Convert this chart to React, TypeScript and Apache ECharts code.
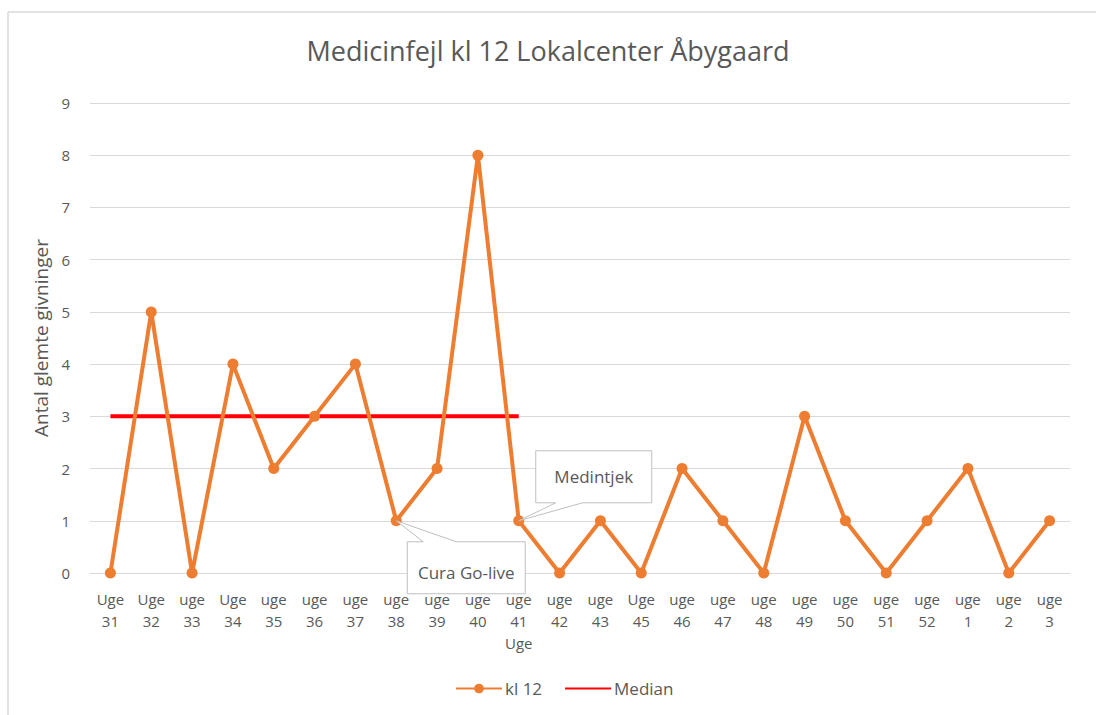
import React, { useEffect, useRef } from "react";
import * as echarts from "echarts";

const categories = [
  "Uge\n31", "Uge\n32", "uge\n33", "Uge\n34", "uge\n35", "uge\n36", "uge\n37", "uge\n38",
  "uge\n39", "uge\n40", "uge\n41\nUge", "uge\n42", "uge\n43", "Uge\n45", "uge\n46", "uge\n47",
  "uge\n48", "uge\n49", "uge\n50", "uge\n51", "uge\n52", "uge\n1", "uge\n2", "uge\n3",
];
const kl12 = [0, 5, 0, 4, 2, 3, 4, 1, 2, 8, 1, 0, 1, 0, 2, 1, 0, 3, 1, 0, 1, 2, 0, 1];
const median = [3, 3, 3, 3, 3, 3, 3, 3, 3, 3, 3, "-", "-", "-", "-", "-", "-", "-", "-", "-", "-", "-", "-", "-"];
const annotations = [
  { index: 7, text: "Cura Go-live", side: "below" },
  { index: 10, text: "Medintjek", side: "above" },
];

const FONT = "'Open Sans', 'Liberation Sans', sans-serif";
const GREY = "#595959";

export default function App() {
  const ref = useRef<HTMLDivElement>(null);
  useEffect(() => {
    const chart = echarts.init(ref.current!, null, { renderer: "svg" });
    chart.setOption({
      animation: false,
      backgroundColor: "#fff",
      textStyle: { fontFamily: FONT },
      title: {
        text: "Medicinfejl kl 12 Lokalcenter Åbygaard",
        left: "center",
        top: 32,
        textStyle: { fontFamily: FONT, fontSize: 27, fontWeight: "normal", color: GREY },
      },
      grid: { left: 90, right: 26, top: 103, bottom: 142 },
      legend: {
        bottom: 13,
        left: 450,
        itemWidth: 46,
        itemHeight: 12,
        itemGap: 22,
        textStyle: { fontFamily: FONT, fontSize: 17, color: GREY, padding: [0, 0, 0, -2] },
        data: [
          { name: "kl 12" },
          { name: "Median", itemStyle: { opacity: 0 } },
        ],
      },
      xAxis: {
        type: "category",
        data: categories,
        boundaryGap: true,
        axisLine: { lineStyle: { color: "#d9d9d9" } },
        axisTick: { show: false },
        axisLabel: { color: GREY, fontSize: 15, lineHeight: 22, margin: 15, interval: 0, fontFamily: FONT },
      },
      yAxis: {
        type: "value",
        min: 0,
        max: 9,
        interval: 1,
        name: "Antal glemte givninger",
        nameLocation: "middle",
        nameGap: 40,
        nameTextStyle: { color: GREY, fontSize: 19, fontFamily: FONT },
        axisLine: { show: false },
        axisTick: { show: false },
        axisLabel: { color: GREY, fontSize: 15, margin: 20, fontFamily: FONT },
        splitLine: { lineStyle: { color: "#d9d9d9", width: 1 } },
      },
      series: [
        {
          name: "kl 12",
          type: "line",
          data: kl12,
          color: "#ED7D31",
          lineStyle: { width: 4, color: "#ED7D31" },
          symbol: "circle",
          symbolSize: 11,
          itemStyle: { color: "#ED7D31" },
          z: 3,
        },
        {
          name: "Median",
          type: "line",
          data: median,
          color: "#FF0000",
          lineStyle: { width: 4, color: "#FF0000" },
          symbol: "none",
          itemStyle: { color: "#FF0000" },
          z: 2,
        },
      ],
    });

    const elements: any[] = [
      { type: "line", shape: { x1: 8, y1: 12, x2: 1096, y2: 12 }, style: { stroke: "#d9d9d9", lineWidth: 1.5 } },
      { type: "line", shape: { x1: 8, y1: 12, x2: 8, y2: 715 }, style: { stroke: "#d9d9d9", lineWidth: 1.5 } },
    ];
    annotations.forEach((a) => {
      const [px, py] = chart.convertToPixel({ seriesIndex: 0 }, [a.index, kl12[a.index]]) as number[];
      let pts: number[][];
      let cx: number, cy: number;
      if (a.side === "below") {
        const l = px + 11, r = px + 129, t = py + 21, b = py + 73;
        pts = [[l, t], [px + 27, t], [px, py], [px + 60, t], [r, t], [r, b], [l, b]];
        cx = (l + r) / 2; cy = (t + b) / 2 + 5;
      } else {
        const l = px + 17, r = px + 133, t = py - 70, b = py - 18;
        pts = [[l, t], [r, t], [r, b], [px + 64, b], [px, py], [px + 37, b], [l, b]];
        cx = (l + r) / 2; cy = (t + b) / 2;
      }
      elements.push({
        type: "polygon",
        shape: { points: pts },
        style: { fill: "#fff", stroke: "#bfbfbf", lineWidth: 1 },
        z: 10,
      });
      elements.push({
        type: "text",
        x: cx,
        y: cy,
        style: { text: a.text, fill: GREY, font: `17px ${FONT}`, textAlign: "center", textVerticalAlign: "middle" },
        z: 11,
      });
    });
    chart.setOption({ graphic: { elements } });
    return () => chart.dispose();
  }, []);
  return <div ref={ref} style={{ position: "absolute", left: 0, top: 0, width: 1096, height: 715 }} />;
}
